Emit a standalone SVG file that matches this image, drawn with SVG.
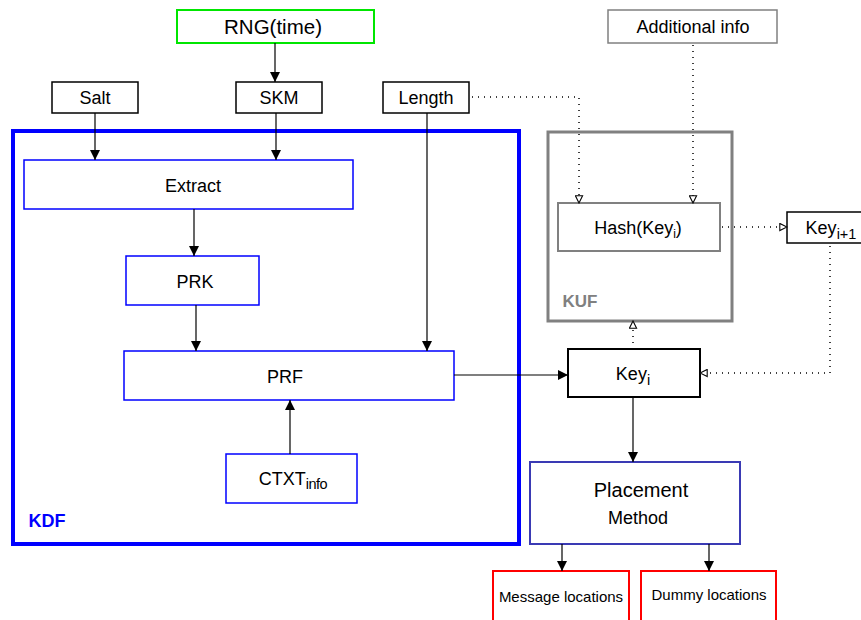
<svg xmlns="http://www.w3.org/2000/svg" width="861" height="620" viewBox="0 0 861 620">
  <style>
    text { font-family: "Liberation Sans", Arial, sans-serif; fill: #000; text-anchor: middle; }
    .lbl { font-size: 18px; }
    .box { fill: #fff; stroke: #000; stroke-width: 1.5; }
    .blue { fill: #fff; stroke: #0000ff; stroke-width: 1.5; }
    .red { fill: #fff; stroke: #ff0000; stroke-width: 2; }
    .solid { fill: none; stroke: #000; stroke-width: 1.2; }
    .dot { fill: none; stroke: #000; stroke-width: 1.5; stroke-dasharray: 1 5; }
  </style>
  <defs>
    <marker id="arr" viewBox="0 0 10 10" refX="10" refY="5" markerWidth="10" markerHeight="10" markerUnits="userSpaceOnUse" orient="auto">
      <path d="M0,0 L10,5 L0,10 Z" fill="#000"/>
    </marker>
    <marker id="open" viewBox="0 0 10 10" refX="9" refY="5" markerWidth="9" markerHeight="9" markerUnits="userSpaceOnUse" orient="auto">
      <path d="M1,1 L9,5 L1,9 Z" fill="#fff" stroke="#000" stroke-width="1.2"/>
    </marker>
  </defs>

  <!-- containers -->
  <g id="kdf">
    <rect x="13" y="131" width="506" height="413" fill="none" stroke="#0000ff" stroke-width="4"/>
    <text x="47" y="527" style="font-size:18px;font-weight:bold;fill:#0000ff">KDF</text>
  </g>
  <g id="kuf">
    <rect x="548" y="132" width="184" height="189" fill="none" stroke="#808080" stroke-width="3"/>
    <text x="580" y="307" style="font-size:17px;font-weight:bold;fill:#808080">KUF</text>
  </g>

  <!-- nodes -->
  <g id="rng">
    <rect x="177" y="10" width="197" height="33" fill="#fff" stroke="#00e600" stroke-width="2"/>
    <text x="273" y="34" style="font-size:20.5px">RNG(time)</text>
  </g>
  <g id="salt">
    <rect class="box" x="52" y="82" width="86" height="31"/>
    <text class="lbl" x="95" y="104">Salt</text>
  </g>
  <g id="skm">
    <rect class="box" x="236" y="82" width="86" height="31"/>
    <text class="lbl" x="279" y="104">SKM</text>
  </g>
  <g id="length">
    <rect class="box" x="383" y="82" width="86" height="31"/>
    <text class="lbl" x="426" y="104">Length</text>
  </g>
  <g id="addinfo">
    <rect x="608" y="10" width="169" height="33" fill="#fff" stroke="#808080" stroke-width="1.5"/>
    <text class="lbl" x="693" y="33">Additional info</text>
  </g>
  <g id="extract">
    <rect class="blue" x="24" y="160" width="329" height="49"/>
    <text class="lbl" x="193" y="192">Extract</text>
  </g>
  <g id="prk">
    <rect class="blue" x="126" y="256" width="133" height="49"/>
    <text class="lbl" x="195" y="288">PRK</text>
  </g>
  <g id="prf">
    <rect class="blue" x="124" y="351" width="330" height="49"/>
    <text class="lbl" x="285" y="383">PRF</text>
  </g>
  <g id="ctxt">
    <rect class="blue" x="226" y="454" width="131" height="49"/>
    <text class="lbl" x="293" y="485">CTXT<tspan style="font-size:14.5px;letter-spacing:-0.5px" dy="4">info</tspan></text>
  </g>
  <g id="hash">
    <rect x="558" y="203" width="162" height="48" fill="#fff" stroke="#808080" stroke-width="2"/>
    <text class="lbl" x="638" y="234">Hash(Key<tspan style="font-size:12px" dy="4">i</tspan><tspan dy="-4">)</tspan></text>
  </g>
  <g id="keynext">
    <rect class="box" x="787" y="212" width="80" height="31"/>
    <text class="lbl" x="831" y="234">Key<tspan style="font-size:14.5px" dy="5">i+1</tspan></text>
  </g>
  <g id="keyi">
    <rect x="568" y="349" width="132" height="48" fill="#fff" stroke="#000" stroke-width="2"/>
    <text class="lbl" x="633" y="380">Key<tspan style="font-size:14.5px" dy="5">i</tspan></text>
  </g>
  <g id="placement">
    <rect x="530" y="462" width="210" height="82" fill="#fff" stroke="#3a3ab4" stroke-width="2"/>
    <text x="641" y="497" style="font-size:20px">Placement</text>
    <text class="lbl" x="638" y="524">Method</text>
  </g>
  <g id="msgloc">
    <rect class="red" x="493" y="571" width="136" height="50"/>
    <text x="561" y="602" style="font-size:15px">Message locations</text>
  </g>
  <g id="dummyloc">
    <rect class="red" x="641" y="571" width="135" height="50"/>
    <text x="709" y="600" style="font-size:15px">Dummy locations</text>
  </g>

  <!-- connectors -->
  <g id="connectors">
    <path class="solid" d="M275,43 V82" marker-end="url(#arr)"/>
    <path class="solid" d="M95,113 V160" marker-end="url(#arr)"/>
    <path class="solid" d="M276,113 V160" marker-end="url(#arr)"/>
    <path class="solid" d="M427,113 V351" marker-end="url(#arr)"/>
    <path class="solid" d="M194,209 V256" marker-end="url(#arr)"/>
    <path class="solid" d="M196,305 V351" marker-end="url(#arr)"/>
    <path class="solid" d="M290,454 V400" marker-end="url(#arr)"/>
    <path class="solid" d="M454,375 H568" marker-end="url(#arr)"/>
    <path class="solid" d="M633,397 V462" marker-end="url(#arr)"/>
    <path class="solid" d="M562,544 V571" marker-end="url(#arr)"/>
    <path class="solid" d="M709,544 V571" marker-end="url(#arr)"/>

    <path class="dot" d="M472,97 H579 V203" marker-end="url(#open)"/>
    <path class="dot" d="M693,45 V203" marker-end="url(#open)"/>
    <path class="dot" d="M722,227 H787" marker-end="url(#open)"/>
    <path class="dot" d="M830,246 V373 H700" marker-end="url(#open)"/>
    <path class="dot" d="M633,349 V321" marker-end="url(#open)"/>
  </g>
</svg>
